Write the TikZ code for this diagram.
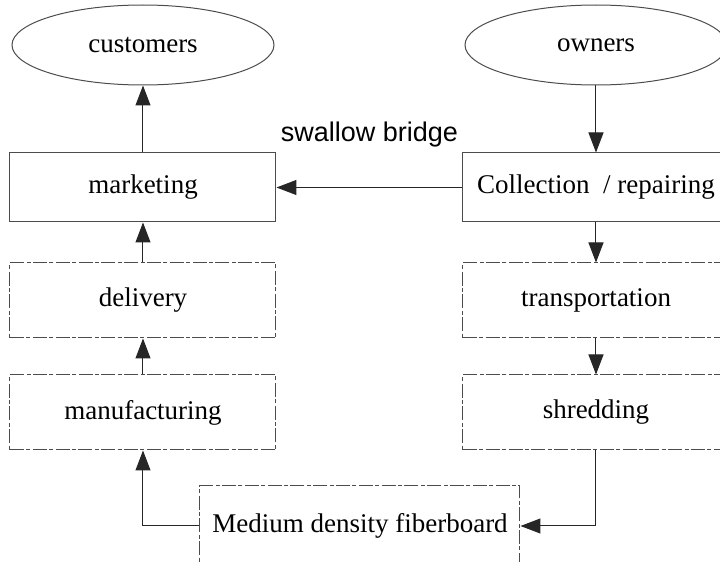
\documentclass[tikz,border=0pt]{standalone}
\usepackage{fontspec}
\setmainfont{Liberation Serif}
\newfontfamily\labelfont{Liberation Sans}
\usetikzlibrary{shapes.geometric,arrows.meta,positioning}

\tikzset{
  stage/.style={draw=black!70, line width=0.5pt, minimum width=133pt, minimum height=34.5pt},
  dashstage/.style={stage, minimum height=37.5pt, dash pattern=on 7pt off 1.2pt on 2pt off 1.2pt},
  party/.style={ellipse, draw=black!70, line width=0.5pt, minimum width=131pt, minimum height=40pt},
  flow/.style={draw=black!85, line width=0.5pt, -{Triangle[length=10pt,width=7.5pt]}}
}

\begin{document}
\begin{tikzpicture}[x=0.5pt, y=-0.5pt,
    every node/.style={font=\fontsize{13.5}{16}\selectfont, inner sep=0pt}]
    \useasboundingbox (0,0) rectangle (720,562);
    \clip (0,0) rectangle (720,562);

    % left column
    \node[party] (cust) at (143,45) {customers};
    \node[stage] (market) at (143,187.5) {marketing};
    \node[dashstage] (deliv) at (143,300.5) {delivery};
    \node[dashstage] (manuf) at (143,412.5) {manufacturing};

    % right column
    \node[party] (own) at (596,45) {owners};
    \node[stage] (collect) at (596,187.5) {Collection\ \ / repairing};
    \node[dashstage] (transp) at (596,300.5) {transportation};
    \node[dashstage] (shred) at (596,412.5) {shredding};

    % product
    \node[dashstage, minimum width=160pt, minimum height=40pt] (mdf) at (360,526) {Medium density fiberboard};

    % flows
    \draw[flow] (market) -- (cust);
    \draw[flow] (deliv) -- (market);
    \draw[flow] (manuf) -- (deliv);
    \draw[flow] (mdf.west) -| (manuf.south);
    \draw[flow] (own) -- (collect);
    \draw[flow] (collect) -- (transp);
    \draw[flow] (transp) -- (shred);
    \draw[flow] (shred.south) |- (mdf.east);
    \draw[flow] (collect) -- node[above=20pt, font=\labelfont\fontsize{13.5}{16}\selectfont] {swallow bridge} (market);
\end{tikzpicture}
\end{document}
